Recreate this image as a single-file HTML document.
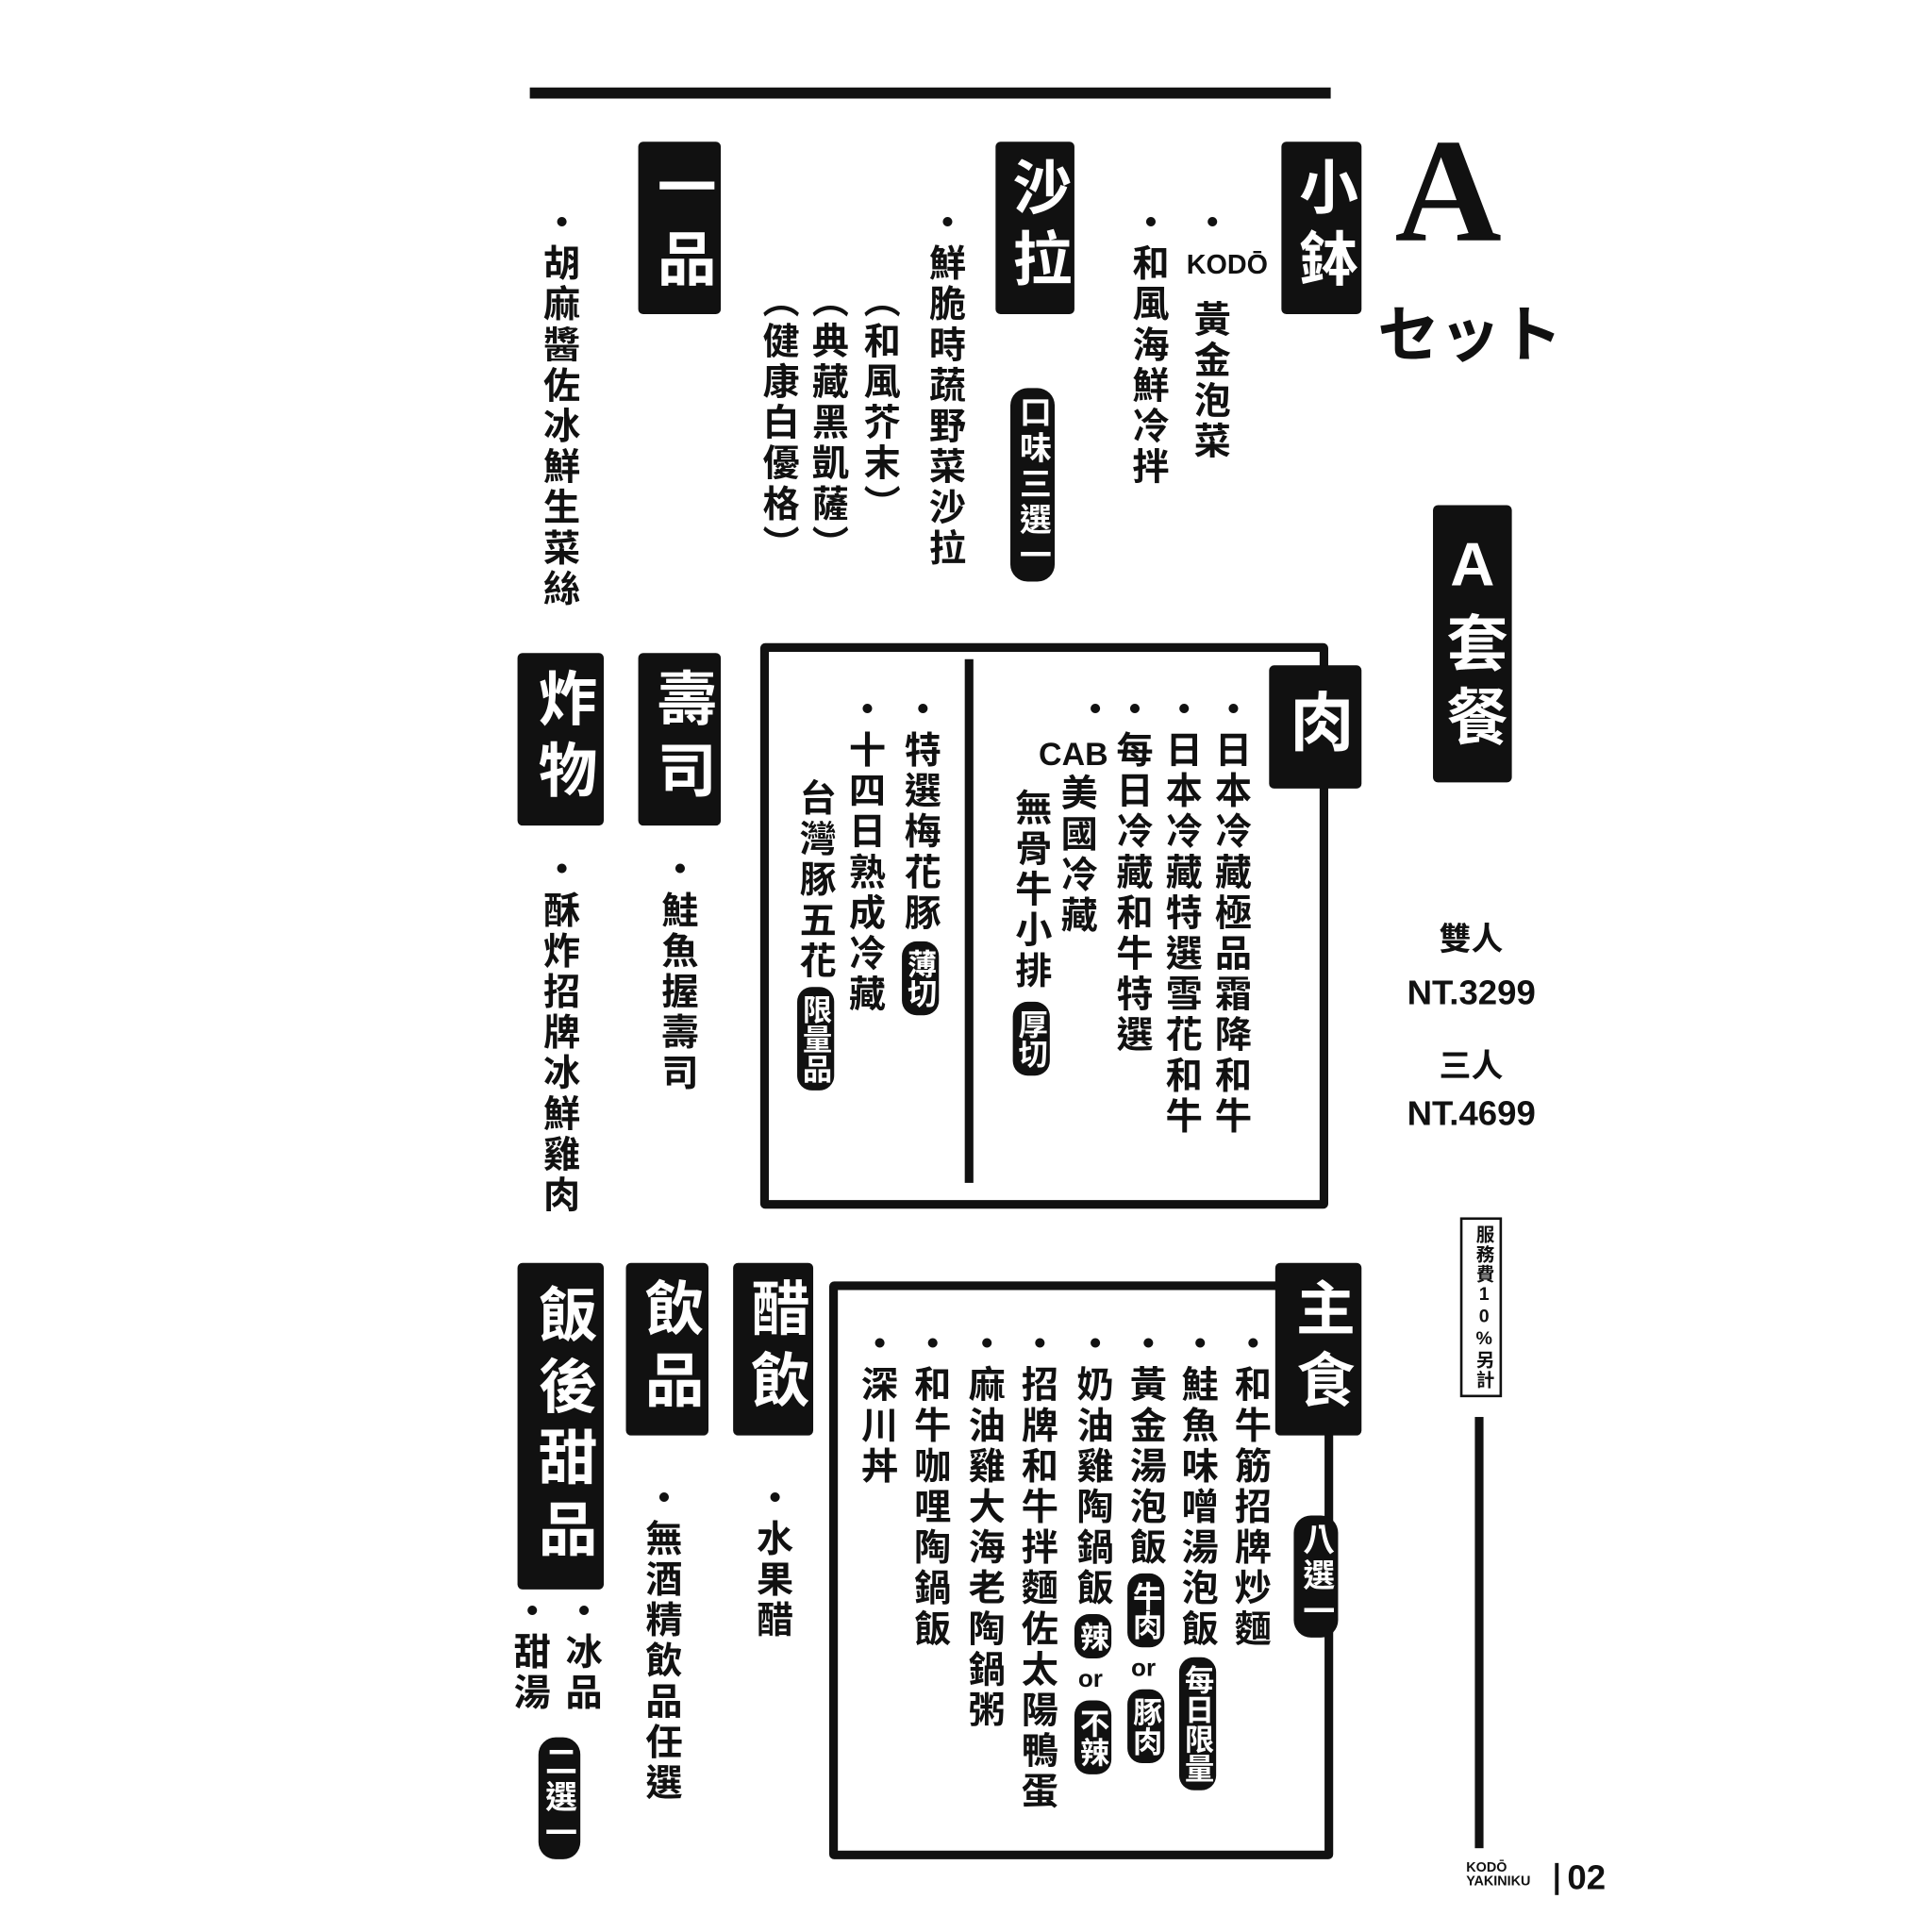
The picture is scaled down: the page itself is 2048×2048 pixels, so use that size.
<!DOCTYPE html>
<html><head><meta charset="utf-8"><style>
html,body{margin:0;padding:0;background:#fff;width:2048px;height:2048px;overflow:hidden}
#c{position:absolute;left:0;top:0;width:1568px;height:1568px;transform:scale(1.30612);transform-origin:0 0;font-family:"Liberation Sans","Noto Sans CJK TC","WenQuanYi Zen Hei",sans-serif;font-weight:bold;color:#111}
.v{position:absolute;writing-mode:vertical-rl;font-size:30px;line-height:34px;width:34px;letter-spacing:3px;white-space:nowrap}
.box{position:absolute;background:#111;color:#fff;writing-mode:vertical-rl;text-orientation:upright;font-size:48px;line-height:60px;display:flex;align-items:center;justify-content:center;letter-spacing:10px;border-radius:4px}
.pill{background:#111;color:#fff;border-radius:12px;padding:6px 0;font-size:24px;display:inline-block;width:30px;text-align:center;letter-spacing:0}
.frame{position:absolute;border:7px solid #111;border-radius:4px}
.h{position:absolute;font-size:26px;white-space:nowrap}
</style></head><body><div id="c">
<div style="position:absolute;left:430px;top:71px;width:650px;height:9px;background:#111"></div>

<div style="position:absolute;left:1132px;top:95px;font-size:120px;font-family:'Liberation Serif',serif;font-weight:bold;line-height:120px">A</div>
<div class="h" style="left:1118px;top:232px;font-size:50px;font-family:'Liberation Sans','Noto Sans CJK JP',sans-serif">セット</div>

<div class="box" style="left:1040px;top:115px;width:65px;height:140px">小鉢</div>
<div class="v" style="left:963px;top:165px">・<span style="writing-mode:horizontal-tb;font-size:22px;display:inline-block;width:34px;letter-spacing:0">KODŌ</span> 黃金泡菜</div>
<div class="v" style="left:913px;top:165px">・和風海鮮冷拌</div>

<div class="box" style="left:808px;top:115px;width:64px;height:140px">沙拉</div>
<div class="v" style="left:748px;top:165px">・鮮脆時蔬野菜沙拉</div>
<div class="v" style="left:820px;top:315px;width:36px;background:#111;color:#fff;border-radius:14px;font-size:26px;padding:6px 0">口味三選一</div>
<div class="v" style="left:695px;top:228px">︵和風芥末︶</div>
<div class="v" style="left:653px;top:228px">︵典藏黑凱薩︶</div>
<div class="v" style="left:613px;top:228px">︵健康白優格︶</div>

<div class="box" style="left:518px;top:115px;width:67px;height:140px">一品</div>
<div class="v" style="left:435px;top:165px">・胡麻醬佐冰鮮生菜絲</div>

<div class="box" style="left:1163px;top:410px;width:64px;height:225px;font-size:50px">A套餐</div>
<div class="h" style="left:1168px;top:742px">雙人</div>
<div class="h" style="left:1142px;top:790px;font-size:28px">NT.3299</div>
<div class="h" style="left:1168px;top:845px">三人</div>
<div class="h" style="left:1142px;top:888px;font-size:28px">NT.4699</div>
<div class="v" style="left:1185px;top:988px;width:30px;border:2px solid #111;font-size:15px;line-height:26px;letter-spacing:1px;padding:4px 0;height:134px;text-orientation:upright">服務費10%另計</div>
<div style="position:absolute;left:1197px;top:1150px;width:7px;height:350px;background:#111"></div>
<div class="h" style="left:1190px;top:1511px;font-size:11px;line-height:11px">KODŌ<br>YAKINIKU</div>
<div style="position:absolute;left:1262px;top:1512px;width:3px;height:26px;background:#111"></div>
<div class="h" style="left:1272px;top:1508px;font-size:28px">02</div>

<div class="frame" style="left:617px;top:522px;width:447px;height:445px"></div>
<div style="position:absolute;left:783px;top:535px;width:7px;height:425px;background:#111"></div>
<div class="box" style="left:1030px;top:540px;width:75px;height:100px;font-size:52px">肉</div>
<div class="v" style="left:980px;top:560px">・日本冷藏極品霜降和牛</div>
<div class="v" style="left:940px;top:560px">・日本冷藏特選雪花和牛</div>
<div class="v" style="left:900px;top:560px">・每日冷藏和牛特選</div>
<div class="v" style="left:868px;top:560px">・</div>
<div class="h" style="left:843px;top:597px">CAB</div>
<div class="v" style="left:855px;top:628px">美國冷藏</div>
<div class="v" style="left:818px;top:640px">無骨牛小排<span class="pill" style="margin-top:8px">厚切</span></div>
<div class="v" style="left:728px;top:560px">・特選梅花豚<span class="pill" style="margin-top:6px">薄切</span></div>
<div class="v" style="left:683px;top:560px">・十四日熟成冷藏</div>
<div class="v" style="left:643px;top:632px">台灣豚五花<span class="pill" style="margin-top:4px">限量品</span></div>

<div class="box" style="left:420px;top:530px;width:70px;height:140px">炸物</div>
<div class="v" style="left:435px;top:690px">・酥炸招牌冰鮮雞肉</div>
<div class="box" style="left:518px;top:530px;width:67px;height:140px">壽司</div>
<div class="v" style="left:531px;top:690px">・鮭魚握壽司</div>

<div class="frame" style="left:673px;top:1040px;width:395px;height:455px"></div>
<div class="box" style="left:1035px;top:1025px;width:70px;height:140px">主食</div>
<div class="v" style="left:1050px;top:1230px;width:36px;background:#111;color:#fff;border-radius:14px;font-size:26px;padding:6px 0">八選一</div>
<div class="v" style="left:996px;top:1075px">・和牛筋招牌炒麵</div>
<div class="v" style="left:953px;top:1075px">・鮭魚味噌湯泡飯<span class="pill" style="margin-top:6px">每日限量</span></div>
<div class="v" style="left:911px;top:1075px">・黃金湯泡飯<span class="pill" style="margin-top:4px">牛肉</span><span style="writing-mode:horizontal-tb;font-size:20px;display:inline-block;width:34px;text-align:center;letter-spacing:0">or</span><span class="pill">豚肉</span></div>
<div class="v" style="left:868px;top:1075px">・奶油雞陶鍋飯<span class="pill" style="margin-top:4px">辣</span><span style="writing-mode:horizontal-tb;font-size:20px;display:inline-block;width:34px;text-align:center;letter-spacing:0">or</span><span class="pill">不辣</span></div>
<div class="v" style="left:823px;top:1075px">・招牌和牛拌麵佐太陽鴨蛋</div>
<div class="v" style="left:780px;top:1075px">・麻油雞大海老陶鍋粥</div>
<div class="v" style="left:736px;top:1075px">・和牛咖哩陶鍋飯</div>
<div class="v" style="left:693px;top:1075px">・深川丼</div>

<div class="box" style="left:595px;top:1025px;width:65px;height:140px">醋飲</div>
<div class="v" style="left:608px;top:1200px">・水果醋</div>
<div class="box" style="left:508px;top:1025px;width:67px;height:140px">飲品</div>
<div class="v" style="left:518px;top:1200px">・無酒精飲品任選</div>
<div class="box" style="left:420px;top:1025px;width:70px;height:265px">飯後甜品</div>
<div class="v" style="left:453px;top:1292px">・冰品</div>
<div class="v" style="left:411px;top:1292px">・甜湯</div>
<div class="v" style="left:437px;top:1410px;width:34px;background:#111;color:#fff;border-radius:14px;font-size:26px;padding:6px 0">二選一</div>
</div></body></html>
